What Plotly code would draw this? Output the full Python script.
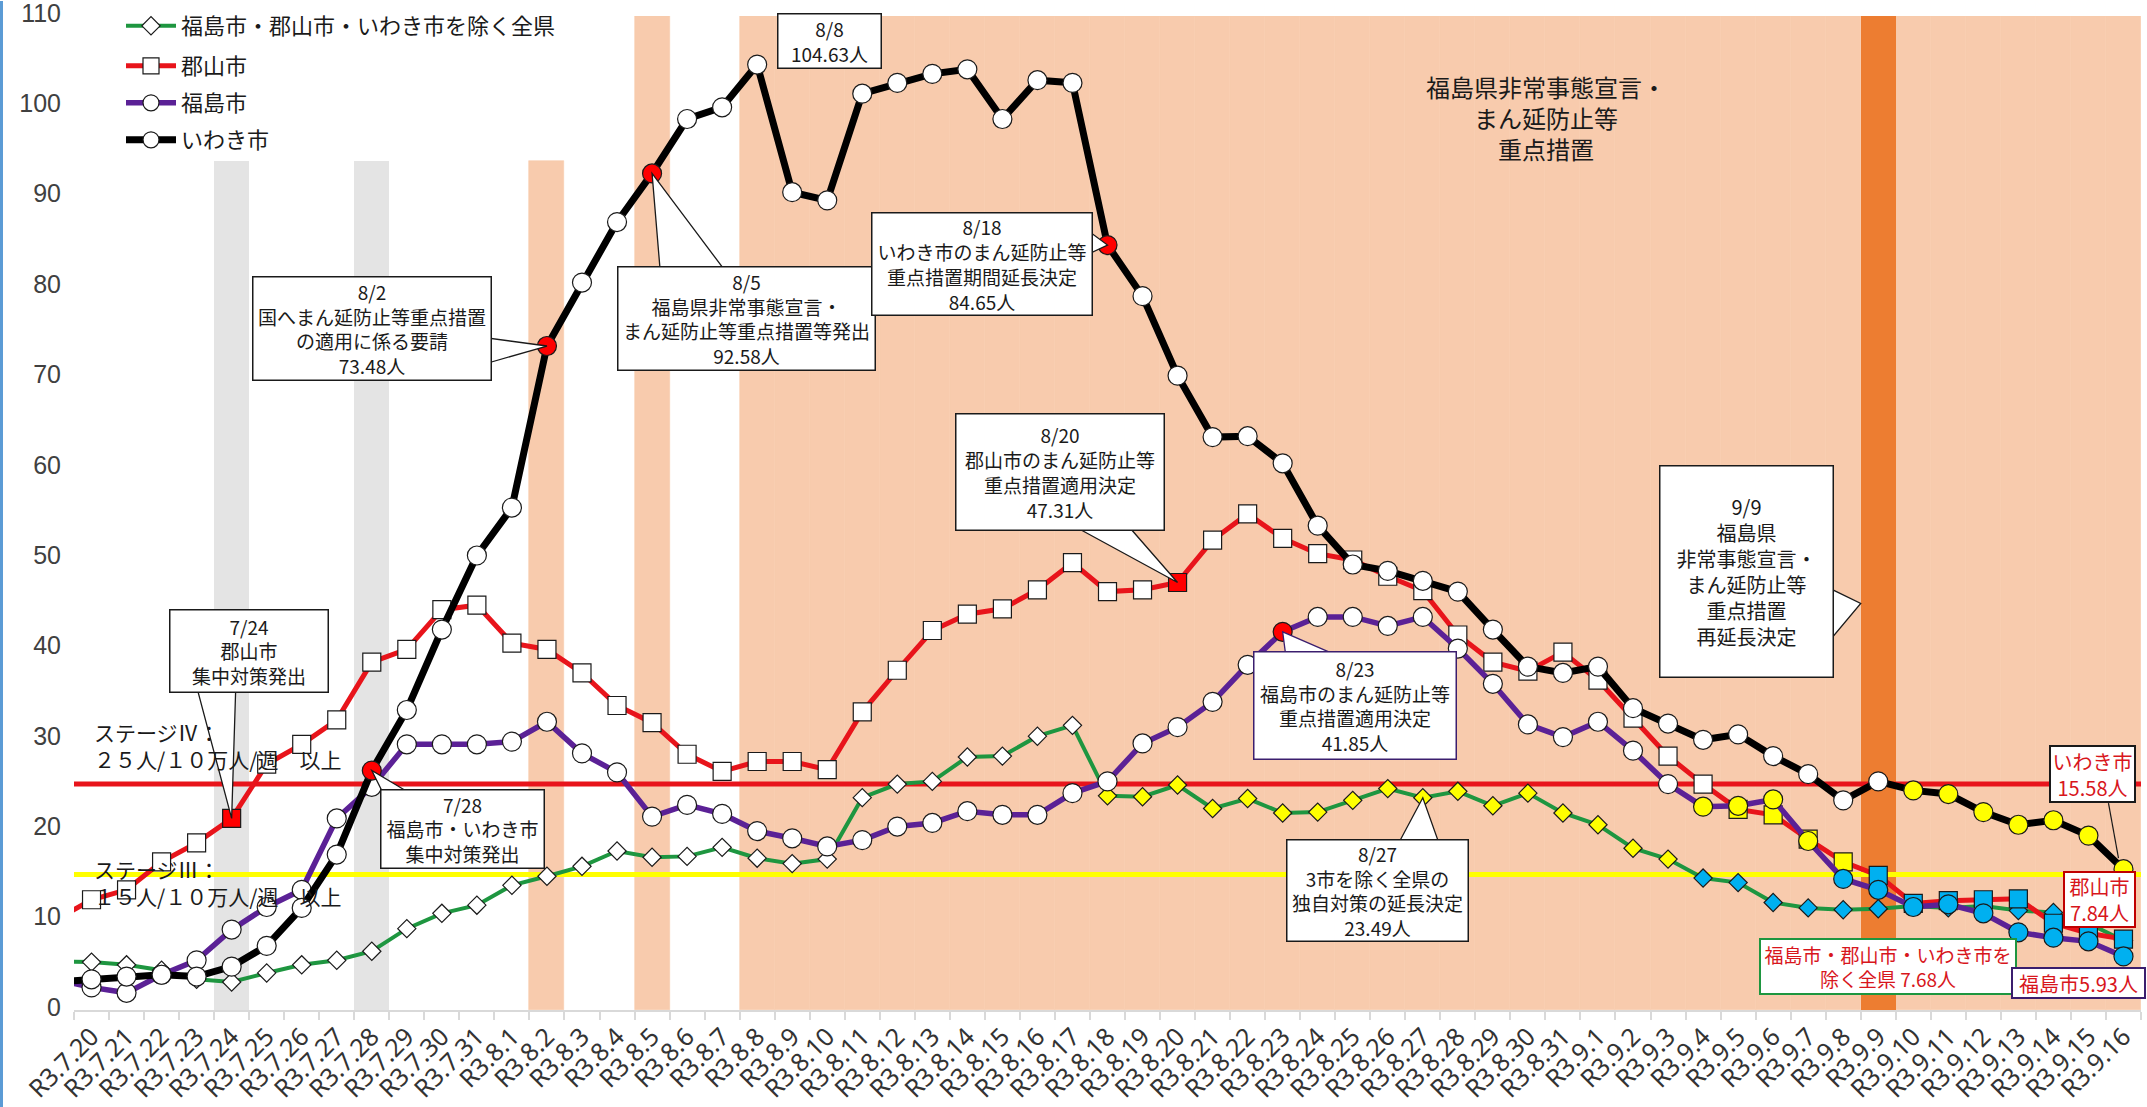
import plotly.graph_objects as go

# ---------------- data ----------------
DATES = [
    "7/20", "7/21", "7/22", "7/23", "7/24", "7/25", "7/26", "7/27", "7/28", "7/29", "7/30", "7/31",
    "8/1", "8/2", "8/3", "8/4", "8/5", "8/6", "8/7", "8/8", "8/9", "8/10",
    "8/11", "8/12", "8/13", "8/14", "8/15", "8/16", "8/17", "8/18", "8/19", "8/20",
    "8/21", "8/22", "8/23", "8/24", "8/25", "8/26", "8/27", "8/28", "8/29", "8/30", "8/31",
    "9/1", "9/2", "9/3", "9/4", "9/5", "9/6", "9/7", "9/8", "9/9", "9/10",
    "9/11", "9/12", "9/13", "9/14", "9/15", "9/16",
]
TICK_LABELS = [
    "R3.7.20", "R3.7.21", "R3.7.22", "R3.7.23", "R3.7.24", "R3.7.25", "R3.7.26", "R3.7.27", "R3.7.28",
    "R3.7.29", "R3.7.30", "R3.7.31",
    "R3.8.1", "R3.8.2", "R3.8.3", "R3.8.4", "R3.8.5", "R3.8.6", "R3.8.7", "R3.8.8", "R3.8.9", "R3.8.10",
    "R3.8.11", "R3.8.12", "R3.8.13", "R3.8.14", "R3.8.15", "R3.8.16", "R3.8.17", "R3.8.18", "R3.8.19",
    "R3.8.20", "R3.8.21", "R3.8.22", "R3.8.23", "R3.8.24", "R3.8.25", "R3.8.26", "R3.8.27", "R3.8.28",
    "R3.8.29", "R3.8.30", "R3.8.31",
    "R3.9.1", "R3.9.2", "R3.9.3", "R3.9.4", "R3.9.5", "R3.9.6", "R3.9.7", "R3.9.8", "R3.9.9", "R3.9.10",
    "R3.9.11", "R3.9.12", "R3.9.13", "R3.9.14", "R3.9.15", "R3.9.16",
]
Y_TICKS = [0, 10, 20, 30, 40, 50, 60, 70, 80, 90, 100, 110]

# new cases per 100k per week
GREEN = [5.3, 5.0, 4.4, 3.4, 3.1, 4.1, 5.0, 5.5, 6.5, 9.0, 10.7, 11.6,
         13.8, 14.8, 15.9, 17.6, 16.9, 17.0, 18.0, 16.8, 16.2, 16.7,
         23.5, 25.0, 25.3, 28.0, 28.1, 30.3, 31.5, 23.7, 23.6, 24.9,
         22.3, 23.4, 21.8, 21.9, 23.2, 24.5, 23.49, 24.2, 22.6, 24.0, 21.8,
         20.5, 17.9, 16.7, 14.6, 14.1, 11.9, 11.3, 11.1, 11.2, 11.5,
         11.3, 11.5, 11.0, 10.8, 9.6, 7.68]
RED = [12.2, 13.3, 16.4, 18.5, 21.2, 27.2, 29.4, 32.1, 38.5, 39.9, 44.3, 44.8,
       40.6, 39.9, 37.3, 33.7, 31.8, 28.3, 26.4, 27.5, 27.5, 26.6,
       33.0, 37.6, 42.0, 43.8, 44.4, 46.5, 49.5, 46.3, 46.5, 47.31,
       52.0, 54.9, 52.2, 50.5, 49.8, 48.0, 46.4, 41.5, 38.5, 37.5, 39.6,
       36.5, 32.3, 28.1, 25.0, 22.2, 21.6, 18.9, 16.4, 14.9, 11.8,
       12.1, 12.2, 12.3, 9.6, 8.5, 7.84]
PURPLE = [2.5, 1.9, 3.9, 5.5, 8.9, 11.4, 13.3, 21.2, 24.7, 29.4, 29.4, 29.4,
          29.7, 31.9, 28.4, 26.3, 21.4, 22.7, 21.7, 19.8, 19.0, 18.1,
          18.8, 20.3, 20.7, 22.0, 21.6, 21.6, 24.0, 25.3, 29.5, 31.3,
          34.1, 38.2, 41.85, 43.5, 43.5, 42.5, 43.5, 40.0, 36.1, 31.6, 30.2,
          31.9, 28.7, 25.0, 22.5, 22.6, 23.3, 18.7, 14.5, 13.3, 11.4,
          11.7, 10.7, 8.6, 8.0, 7.6, 5.93]
BLACK = [3.4, 3.7, 3.9, 3.7, 4.8, 7.1, 11.3, 17.2, 26.5, 33.2, 42.1, 50.3,
         55.6, 73.48, 80.5, 87.2, 92.58, 98.6, 99.9, 104.63, 90.5, 89.6,
         101.4, 102.6, 103.6, 104.1, 98.6, 102.9, 102.6, 84.65, 79.0, 70.2,
         63.4, 63.5, 60.5, 53.6, 49.3, 48.6, 47.5, 46.3, 42.1, 38.0, 37.3,
         38.0, 33.4, 31.7, 29.9, 30.5, 28.1, 26.1, 23.2, 25.3, 24.3,
         23.9, 21.9, 20.5, 21.0, 19.3, 15.58]
# value on 7/19 (day before the first category): only the line entering from the axis is visible
LEAD_IN = {"green": 5.4, "red": 10.0, "purple": 3.4, "black": 3.1}

STAGE4 = 25
STAGE3 = 15

# background bands (day -> bar height)
GRAY_BANDS = {"7/24": 94, "7/28": 94}
PEACH_BANDS = {"8/2": 94, "8/5": 110}
PEACH_RANGE = ("8/8", "9/16", 110)
ORANGE_BANDS = {"9/9": 110}

EVENT_DAYS = {"green": [], "red": ["7/24", "8/20"], "purple": ["8/23"],
              "black": ["7/28", "8/2", "8/5", "8/18"]}
COLOR_RULE_FROM = {"green": "8/18", "red": "9/4", "purple": "9/4", "black": "9/10"}

# ---------------- layout constants ----------------
PAGE_W, PAGE_H = 2147, 1107
PL, PR, PT, PB = 74, 2141, 15, 1010   # plot area in page pixels
W, H = PAGE_W, PAGE_H
M = dict(l=PL, r=PAGE_W - PR, t=PT, b=PAGE_H - PB)
N = len(DATES)
XMIN, XMAX = -0.5, N - 0.5
YMIN, YMAX = 0, 110
idx = {d: i for i, d in enumerate(DATES)}

JP = "Noto Sans CJK JP"
NUM = "Noto Sans"
YNUM = "Liberation Sans"

C_GREEN = "#1E9640"
C_RED = "#E8141B"
C_PURPLE = "#5B2196"
C_BLACK = "#000000"
C_YEL = "#FFFF00"
C_BLUE = "#00B0F0"


def xp(px):
    return (px - PL) / (PR - PL)


def yp(py):
    return (PB - py) / (PB - PT)


fig = go.Figure()

# ---------------- bands ----------------
def add_bands(days_heights, color):
    fig.add_trace(go.Bar(x=[idx[d] for d in days_heights], y=list(days_heights.values()),
                         width=1, marker=dict(color=color, line=dict(width=0)),
                         showlegend=False, hoverinfo="skip"))


peach = dict(PEACH_BANDS)
for i in range(idx[PEACH_RANGE[0]], idx[PEACH_RANGE[1]] + 1):
    peach[DATES[i]] = PEACH_RANGE[2]
fig.add_trace(go.Bar(x=[idx[d] for d in peach], y=list(peach.values()), width=1,
                     marker=dict(color="#F8CBAD", line=dict(color="#F8CBAD", width=0.6)),
                     showlegend=False, hoverinfo="skip"))
add_bands(GRAY_BANDS, "#E4E4E4")
add_bands(ORANGE_BANDS, "#ED7D31")

# stage lines
fig.add_trace(go.Scatter(x=[XMIN, XMAX], y=[STAGE4, STAGE4], mode="lines",
                         line=dict(color=C_RED, width=5), showlegend=False, hoverinfo="skip"))
fig.add_trace(go.Scatter(x=[XMIN, XMAX], y=[STAGE3, STAGE3], mode="lines",
                         line=dict(color=C_YEL, width=5), showlegend=False, hoverinfo="skip"))

# ---------------- series ----------------
SERIES = [
    ("green", "福島市・郡山市・いわき市を除く全県", GREEN, C_GREEN, 4, "diamond", 14, "legend"),
    ("red", "郡山市", RED, C_RED, 5, "square", 18, "legend2"),
    ("purple", "福島市", PURPLE, C_PURPLE, 5.5, "circle", 19, "legend3"),
    ("black", "いわき市", BLACK, C_BLACK, 7, "circle", 19, "legend4"),
]


def marker_color(key, i, v):
    if DATES[i] in EVENT_DAYS[key]:
        return "#FF0000"
    if i >= idx[COLOR_RULE_FROM[key]]:
        if v >= STAGE4:
            return "white"
        if v >= STAGE3:
            return C_YEL
        return C_BLUE
    return "white"


for key, name, vals, color, lw, sym, size, lg in SERIES:
    xs = [-1] + list(range(N))
    ys = [LEAD_IN[key]] + vals
    cols = ["white"] + [marker_color(key, i, v) for i, v in enumerate(vals)]
    fig.add_trace(go.Scatter(
        x=xs, y=ys, mode="lines+markers", name=name, legend=lg,
        line=dict(color=color, width=lw),
        marker=dict(symbol=sym, size=size, color=cols, line=dict(color="#1a1a1a", width=1.2)),
        cliponaxis=True, hoverinfo="skip"))

# ---------------- legends ----------------
LEG_ROWS = [26, 66, 103, 140]
for k, lg in enumerate(["legend", "legend2", "legend3", "legend4"]):
    fig.update_layout({lg: dict(x=xp(121), y=yp(LEG_ROWS[k]), xanchor="left", yanchor="middle",
                                bgcolor="rgba(0,0,0,0)", itemwidth=50,
                                font=dict(family=JP, size=22, color="#1a1a1a"))})

# ---------------- callouts ----------------
# (series, day, text, box offset dx, dy [px, screen], w, h, wedge base pts [px, y up], border, fontsize)
SER_VALS = {"green": GREEN, "red": RED, "purple": PURPLE, "black": BLACK}
CALLOUTS = [
    ("red", "7/24", "7/24<br>郡山市<br>集中対策発出", 17, -167, 160, 84,
     [(-34, 128), (4, 128)], "#1a1a1a", 19),
    ("black", "7/28", "7/28<br>福島市・いわき市<br>集中対策発出", 91, 58, 165, 80,
     [(11, -22), (37, -22)], "#1a1a1a", 19),
    ("black", "8/2", "8/2<br>国へまん延防止等重点措置<br>の適用に係る要請<br>73.48人", -175, -18, 240, 105,
     [(-59, 8), (-59, -17)], "#1a1a1a", 19),
    ("black", "8/5", "8/5<br>福島県非常事態宣言・<br>まん延防止等重点措置等発出<br>92.58人", 94, 145, 259, 105,
     [(8, -96), (72, -96)], "#1a1a1a", 19),
    ("black", "8/8", "8/8<br>104.63人", 72, -24, 105, 56, None, "#1a1a1a", 19),
    ("black", "8/18", "8/18<br>いわき市のまん延防止等<br>重点措置期間延長決定<br>84.65人", -126, 19, 222, 104,
     [(-19, 14), (-19, -9)], "#1a1a1a", 19),
    ("red", "8/20", "8/20<br>郡山市のまん延防止等<br>重点措置適用決定<br>47.31人", -118, -110, 210, 118,
     [(-101, 55), (-48, 55)], "#1a1a1a", 19),
    ("purple", "8/23", "8/23<br>福島市のまん延防止等<br>重点措置適用決定<br>41.85人", 72, 74, 204, 109,
     [(3, -23), (53, -23)], "#3B1E6E", 19),
    ("green", "8/27", "8/27<br>3市を除く全県の<br>独自対策の延長決定<br>23.49人", -45, 93, 183, 103,
     [(-24, -45), (16, -45)], "#1a1a1a", 19),
]
# 9/9 callout points at the left edge of the 9/9 band
CALLOUT_99 = ("9/9", 45, "9/9<br>福島県<br>非常事態宣言・<br>まん延防止等<br>重点措置<br>再延長決定",
              -114, -32, 175, 213, [(-31, 15), (-31, -37)])

annotations = []
shapes = []


def add_box(x, y, text, dx, dy, w, h, border, fsize, fcolor="#1a1a1a", bw=1.5):
    annotations.append(dict(
        x=x, y=y, xref="x", yref="y", text=text, showarrow=False,
        xshift=dx, yshift=-dy, width=w - 3, height=h - 3, borderpad=0,
        align="center", valign="middle", xanchor="center", yanchor="middle",
        bgcolor="white", bordercolor=border, borderwidth=bw,
        font=dict(family=JP, size=fsize, color=fcolor)))


def add_wedge(x, y, pts, border):
    (ax_, ay_), (bx_, by_) = pts
    shapes.append(dict(type="path", xref="x", yref="y", xsizemode="pixel", ysizemode="pixel",
                       xanchor=x, yanchor=y, path=f"M{ax_},{ay_} L{bx_},{by_} L0,0 Z",
                       fillcolor="white", line=dict(color=border, width=1.3), layer="above"))


for key, day, text, dx, dy, w, h, wedge, border, fs in CALLOUTS:
    x = idx[day]
    y = SER_VALS[key][x]
    if wedge:
        add_wedge(x, y, wedge, border)
    add_box(x, y, text, dx, dy, w, h, border, fs)

d99, y99, t99, dx99, dy99, w99, h99, wg99 = CALLOUT_99
add_wedge(idx[d99] - 0.5, y99, wg99, "#1a1a1a")
add_box(idx[d99] - 0.5, y99, t99, dx99, dy99, w99, h99, "#1a1a1a", 20)

# ---------------- end labels ----------------
LAST = N - 1
END_LABELS = [
    ("black", "いわき市<br>15.58人", -31, -95, 86, 57, "#1a1a1a", 20),
    ("red", "郡山市<br>7.84人", -24, -40, 72, 56, "#C00000", 20),
    ("green", "福島市・郡山市・いわき市を<br>除く全県 7.68人", -235, 26, 257, 56, C_GREEN, 19),
    ("purple", "福島市5.93人", -45, 27, 134, 31, "#3B1E6E", 20),
]
for key, text, dx, dy, w, h, border, fs in END_LABELS:
    add_box(LAST, SER_VALS[key][LAST], text, dx, dy, w, h, border, fs, fcolor="#D8161C", bw=2)
# leader line from いわき市 label
shapes.append(dict(type="path", xref="x", yref="y", xsizemode="pixel", ysizemode="pixel",
                   xanchor=LAST, yanchor=BLACK[LAST], path="M-15,66 L-5,11",
                   line=dict(color="#1a1a1a", width=1.2), layer="above"))

# ---------------- free texts ----------------
annotations.append(dict(xref="paper", yref="paper", x=xp(1546), y=yp(117), showarrow=False,
                        text="福島県非常事態宣言・<br>まん延防止等<br>重点措置", align="center",
                        xanchor="center", yanchor="middle",
                        font=dict(family=JP, size=24, color="#1a1a1a")))
annotations.append(dict(xref="paper", yref="paper", x=xp(92), y=yp(745), showarrow=False,
                        text="ステージⅣ：<br>２５人/１０万人/週　以上", align="left",
                        xanchor="left", yanchor="middle",
                        font=dict(family=JP, size=21, color="#1a1a1a")))
annotations.append(dict(xref="paper", yref="paper", x=xp(92), y=yp(882), showarrow=False,
                        text="ステージⅢ：<br>１５人/１０万人/週　以上", align="left",
                        xanchor="left", yanchor="middle",
                        font=dict(family=JP, size=21, color="#1a1a1a")))

# left blue frame edge of the original picture
shapes.append(dict(type="rect", xref="paper", yref="paper", x0=xp(0), x1=xp(3), y0=yp(PAGE_H), y1=yp(0),
                   fillcolor="#5B9BD5", line=dict(width=0), layer="above"))

fig.update_layout(
    width=W, height=H, margin=M,
    paper_bgcolor="white", plot_bgcolor="white",
    barmode="overlay", bargap=0,
    annotations=annotations, shapes=shapes,
    xaxis=dict(range=[XMIN, XMAX], tickmode="array", tickvals=list(range(N)), ticktext=TICK_LABELS,
               tickangle=-45, ticks="", showgrid=False, zeroline=False,
               showline=True, linecolor="#D9D9D9", linewidth=2, automargin=False,
               tickfont=dict(family=NUM, size=25, color="#333333"),
               minor=dict(tickmode="array", tickvals=[i - 0.5 for i in range(N + 1)],
                          ticks="outside", ticklen=8, tickwidth=1.5, tickcolor="#D9D9D9")),
    yaxis=dict(range=[YMIN, YMAX + 0.001], tickmode="array", tickvals=Y_TICKS,
               ticks="", showgrid=False, zeroline=False, showline=False, automargin=False,
               ticklabelstandoff=12, ticklabelshift=-3, ticklabeloverflow="allow",
               tickfont=dict(family=YNUM, size=25, color="#404040")),
)

# the figure fills the page exactly: drop the default body margin, no mode bar
fig.write_html("out.html", config={"displayModeBar": False},
               post_script="document.body.style.margin='0px';")
